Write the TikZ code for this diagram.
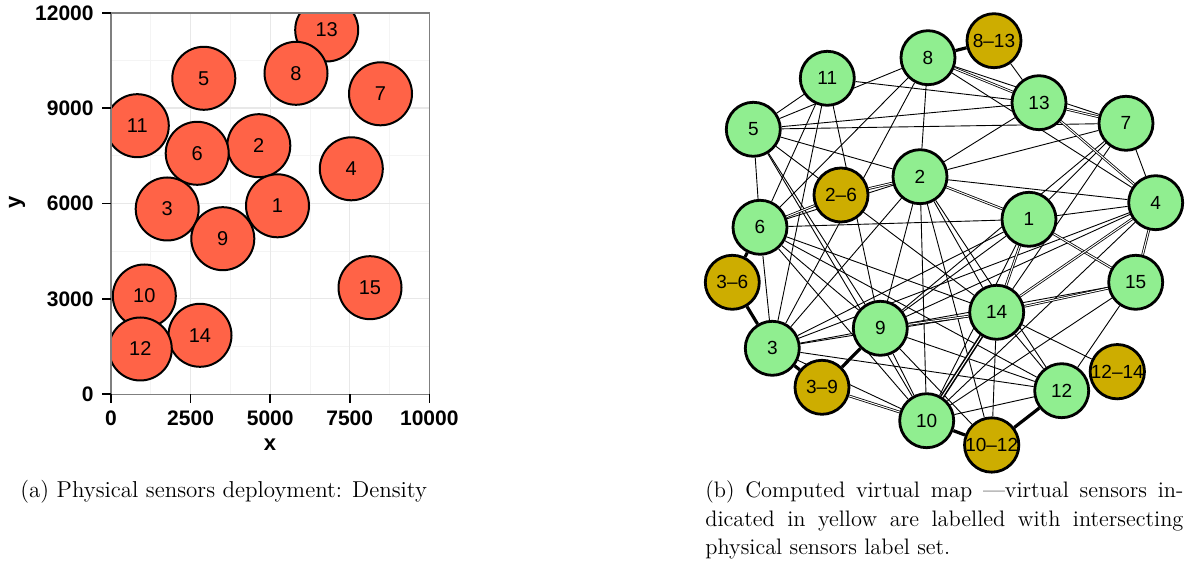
\documentclass[tikz,border=0pt]{standalone}
\usepackage{fontspec}
\newfontfamily\plotfont{Liberation Sans}
\pgfdeclarelayer{background}
\pgfsetlayers{background,main}
\definecolor{tomatoc}{RGB}{255,99,71}
\definecolor{greenc}{RGB}{144,238,144}
\definecolor{goldc}{RGB}{205,173,0}
\definecolor{gridmaj}{RGB}{232,232,232}
\definecolor{gridmin}{RGB}{244,244,244}
\definecolor{framec}{RGB}{127,127,127}
\tikzset{
  sensor/.style={circle, draw=black, line width=1pt, fill=tomatoc, minimum size=31.5pt, inner sep=0pt, font=\plotfont\fontsize{10}{11}\selectfont},
  phys/.style={circle, draw=black, line width=1.4pt, fill=greenc, minimum size=27pt, inner sep=0pt, font=\plotfont\fontsize{9.5}{10}\selectfont},
  virt/.style={phys, fill=goldc},
  edge/.style={line width=0.45pt},
  dbl/.style={line width=0.4pt, double=white, double distance=0.5pt},
  thk/.style={line width=1.6pt},
  ticklab/.style={font=\plotfont\bfseries\fontsize{10.5}{12}\selectfont, inner sep=0pt},
  axlab/.style={font=\plotfont\bfseries\fontsize{11}{12}\selectfont, inner sep=0pt},
  captxt/.style={inner sep=0pt, font=\fontsize{11.2}{14.2}\selectfont}
}
\begin{document}
\begin{tikzpicture}[x=0.5pt,y=-0.5pt]
\useasboundingbox (0,0) rectangle (1191,565);
% ---------- left panel ----------
\fill[white] (111,13) rectangle (429.3,394.3);
\foreach \gx in {150.8,230.4,310,389.5} \draw[gridmin, line width=0.5pt] (\gx,13) -- (\gx,394.3);
\foreach \gy in {346.6,251.2,155.8,60.4} \draw[gridmin, line width=0.5pt] (111,\gy) -- (429.3,\gy);
\foreach \gx in {190.6,270.2,349.7} \draw[gridmaj, line width=0.6pt] (\gx,13) -- (\gx,394.3);
\foreach \gy in {298.9,203.5,108.1} \draw[gridmaj, line width=0.6pt] (111,\gy) -- (429.3,\gy);
\begin{scope}
\clip (111,13) rectangle (429.3,394.3);
\node[sensor] (s13) at (326.7,30) {13};
\node[sensor] (s8) at (296,73.3) {8};
\node[sensor] (s5) at (203.8,78.3) {5};
\node[sensor] (s7) at (380.5,93.8) {7};
\node[sensor] (s11) at (137.3,125.7) {11};
\node[sensor] (s2) at (258.8,145.7) {2};
\node[sensor] (s6) at (197.2,153.3) {6};
\node[sensor] (s4) at (351.3,168.8) {4};
\node[sensor] (s1) at (277.5,205.8) {1};
\node[sensor] (s3) at (167.2,209) {3};
\node[sensor] (s9) at (222.8,238.7) {9};
\node[sensor] (s15) at (370,287.7) {15};
\node[sensor] (s10) at (144.3,296) {10};
\node[sensor] (s14) at (200,335.3) {14};
\node[sensor] (s12) at (140.3,349) {12};
\end{scope}
\draw[framec, line width=0.6pt] (111,13) rectangle (429.3,394.3);
\foreach \yy/\lab in {13/12000,108.1/9000,203.5/6000,298.9/3000,394.3/0} {
  \draw[line width=0.8pt] (102,\yy) -- (111,\yy);
  \node[ticklab, anchor=east] at (94,\yy) {\lab};
}
\foreach \xx/\lab in {111/0,190.6/2500,270.2/5000,349.7/7500,429.3/10000} {
  \draw[line width=0.8pt] (\xx,394.3) -- (\xx,403);
  \node[ticklab] at (\xx,418) {\lab};
}
\node[axlab] (xl) at (270,445) {x};
\node[axlab, rotate=90] (yl) at (17,202) {y};
\node[captxt, anchor=base west, font=\fontsize{11.5}{14.2}\selectfont] (capa) at (20,498) {(a) Physical sensors deployment: Density};
% ---------- right panel ----------
\node[virt] (g813) at (994,40.7) {8\textendash13};
\node[phys] (g8) at (928,57.7) {8};
\node[phys] (g11) at (827.3,78.3) {11};
\node[phys] (g13) at (1039,102.7) {13};
\node[phys] (g7) at (1126,123.3) {7};
\node[phys] (g5) at (753.3,129.3) {5};
\node[phys] (g2) at (920,176.7) {2};
\node[virt] (g26) at (841,195) {2\textendash6};
\node[phys] (g4) at (1155.7,202.7) {4};
\node[phys] (g1) at (1029,219.3) {1};
\node[phys] (g6) at (760,227.3) {6};
\node[virt] (g36) at (732.3,282.3) {3\textendash6};
\node[phys] (g15) at (1135.7,282.3) {15};
\node[phys] (g14) at (996.7,312.3) {14};
\node[phys] (g9) at (880.3,328.3) {9};
\node[phys] (g3) at (772.3,348.3) {3};
\node[virt] (g39) at (822,387.3) {3\textendash9};
\node[virt] (g1214) at (1117.3,371.7) {12\textendash14};
\node[phys] (g12) at (1061.7,390.7) {12};
\node[phys] (g10) at (926.7,420.7) {10};
\node[virt] (g1012) at (991.7,445) {10\textendash12};
\begin{pgfonlayer}{background}
\foreach \a/\b in {5/11,5/8,5/13,5/7,5/2,5/6,5/14,5/9,5/10,
  11/13,11/6,11/3,11/9,
  8/2,8/6,8/3,8/7,8/4,813/13,13/2,
  7/2,7/4,7/9,7/1,7/14,
  4/2,4/1,4/3,4/9,4/10,
  2/6,2/9,2/10,2/1012,2/14,2/3,2/12,
  1/6,1/9,1/3,1/10,
  15/10,15/12,15/9,
  14/1214,14/12,14/1012,14/3,14/6,
  12/9,12/3,12/6,12/10,
  6/3,6/9,6/10,
  9/10,9/1012,9/3,3/10}
  \draw[edge] (g\a) -- (g\b);
\foreach \a/\b in {8/13,13/7,13/4,2/1,1/15,1/14,14/15,9/14,4/15,39/10,26/2,26/6,4/14}
  \draw[dbl] (g\a) -- (g\b);
\foreach \a/\b in {8/813,6/36,36/3,3/39,39/9,10/1012,1012/12}
  \draw[thk] (g\a) -- (g\b);
\draw[line width=0.8pt, double=white, double distance=0.5pt] (g14) -- (g10);
\end{pgfonlayer}
\node[captxt, anchor=base west, text width=239pt, align=justify] (capb) at (705,498)
  {(b) Computed virtual map ---virtual sensors in-\linebreak dicated in yellow are labelled with intersecting\linebreak physical sensors label set.};
\end{tikzpicture}
\end{document}
